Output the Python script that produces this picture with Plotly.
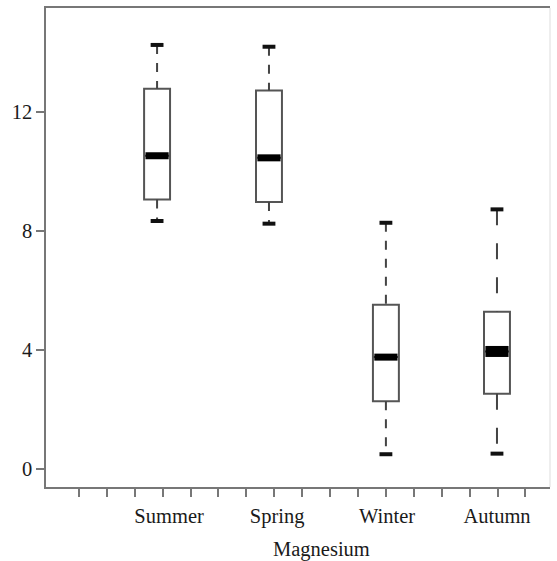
import plotly.graph_objects as go

seasons = ["Summer", "Spring", "Winter", "Autumn"]
box_pos = [2.80, 6.81, 11.0, 14.98]
label_pos = [3.23, 7.10, 11.04, 14.98]
q1 = [9.05, 8.97, 2.28, 2.53]
median = [10.52, 10.45, 3.76, 3.95]
q3 = [12.77, 12.71, 5.52, 5.28]
lower = [8.33, 8.24, 0.50, 0.52]
upper = [14.24, 14.18, 8.27, 8.72]
dashes = ["9px,9px", "9px,9px", "9px,9px", "16px,18px"]
median_w = [7, 7, 7, 11]
minor_ticks = list(range(0, 17))

box_w = 0.93
cap_hw = 0.23

fig = go.Figure()

# dashed whiskers
for i in range(len(seasons)):
    fig.add_trace(go.Scatter(
        x=[box_pos[i], box_pos[i], None, box_pos[i], box_pos[i]],
        y=[upper[i], q3[i], None, q1[i], lower[i]],
        mode="lines", line=dict(color="#444444", width=2, dash=dashes[i]),
        hoverinfo="skip", showlegend=False))

# boxes
fig.add_trace(go.Box(
    x=box_pos, q1=q1, median=median, q3=q3,
    lowerfence=q1, upperfence=q3,
    width=box_w, whiskerwidth=0,
    fillcolor="white", line=dict(color="#555555", width=2),
    showlegend=False, hoverinfo="skip"))

# caps
cx, cy = [], []
for i in range(len(seasons)):
    for v in (upper[i], lower[i]):
        cx += [box_pos[i] - cap_hw, box_pos[i] + cap_hw, None]
        cy += [v, v, None]
fig.add_trace(go.Scatter(x=cx, y=cy, mode="lines",
                         line=dict(color="#111111", width=4),
                         hoverinfo="skip", showlegend=False))

# medians
for i in range(len(seasons)):
    fig.add_trace(go.Scatter(
        x=[box_pos[i] - box_w / 2 + 0.05, box_pos[i] + box_w / 2 - 0.05],
        y=[median[i], median[i]], mode="lines",
        line=dict(color="#000000", width=median_w[i]),
        hoverinfo="skip", showlegend=False))

font_family = "Liberation Serif, Times New Roman, serif"
fsize = 20.5

fig.update_layout(
    width=557, height=561,
    margin=dict(l=46, r=7, t=6, b=74),
    paper_bgcolor="white", plot_bgcolor="white",
    font=dict(family=font_family, size=fsize, color="#1a1a1a"),
    showlegend=False,
    xaxis=dict(
        range=[-1.18, 16.88],
        tickmode="array", tickvals=label_pos, ticktext=seasons,
        ticks="", ticklen=0, ticklabelstandoff=10,
        showgrid=False, zeroline=False,
        showline=True, linecolor="#777777", linewidth=1.5,
        mirror=True,
        minor=dict(tickmode="array", tickvals=minor_ticks, ticks="outside",
                   ticklen=8, tickcolor="#777777", tickwidth=1.5,
                   showgrid=False),
        tickfont=dict(size=fsize, family=font_family),
    ),
    yaxis=dict(
        range=[-0.6, 15.48],
        tickmode="array", tickvals=[0, 4, 8, 12],
        ticks="outside", ticklen=8, tickcolor="#777777", tickwidth=1.5,
        showgrid=False, zeroline=False,
        showline=True, linecolor="#777777", linewidth=1.5,
        tickfont=dict(size=fsize, family=font_family),
    ),
    shapes=[dict(type="line", xref="paper", yref="paper",
                 x0=1, x1=1, y0=0, y1=1,
                 line=dict(color="#dddddd", width=1))],
    annotations=[dict(text="Magnesium", xref="paper", yref="paper",
                      x=(321.5 - 46) / (550 - 46), y=-(550 - 487) / (487 - 6),
                      xanchor="center", yanchor="middle", showarrow=False,
                      font=dict(size=fsize, family=font_family, color="#1a1a1a"))],
)

fig.write_html("out.html")
